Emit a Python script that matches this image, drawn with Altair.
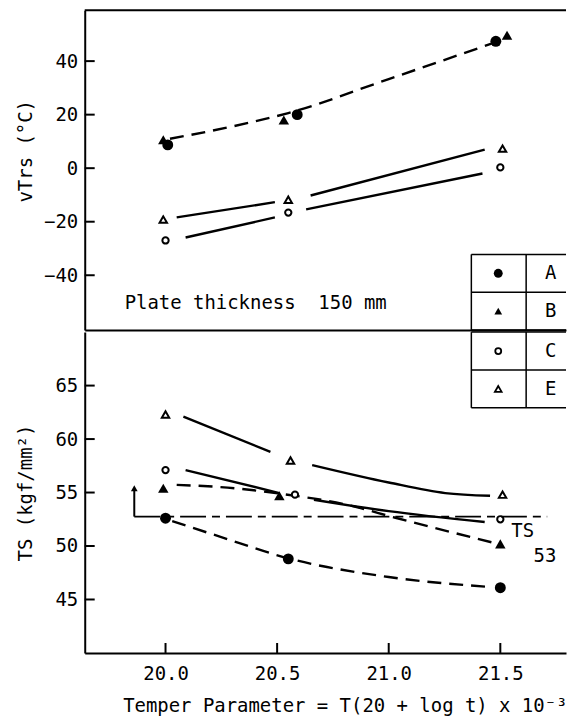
import altair as alt
import pandas as pd

FONT = "DejaVu Sans Mono"
FS = 19

# ---------------- axes ----------------
x_ticks = [20.0, 20.5, 21.0, 21.5]
vtrs_ticks = [-40, -20, 0, 20, 40]
ts_ticks = [45, 50, 55, 60, 65]

x_domain = [19.638, 21.7943]
vtrs_domain = [-60.5, 59.0]
ts_domain = [40.0, 70.0]

# ---------------- vTrs panel: measured points ----------------
vtrs_A_x = [20.01, 20.59, 21.48]
vtrs_A_y = [8.7, 20.0, 47.4]
vtrs_B_x = [19.99, 20.53, 21.53]
vtrs_B_y = [10.6, 18.0, 49.7]
vtrs_C_x = [20.0, 20.55, 21.5]
vtrs_C_y = [-27.0, -16.6, 0.3]
vtrs_E_x = [19.99, 20.55, 21.51]
vtrs_E_y = [-19.2, -11.8, 7.3]

# vTrs fitted curves
vtrs_AB_fit_x = [20.02, 20.3, 20.55, 21.0, 21.47]
vtrs_AB_fit_y = [11.0, 15.6, 20.6, 33.3, 46.8]
vtrs_C_fit1_x = [20.09, 20.49]
vtrs_C_fit1_y = [-25.9, -18.4]
vtrs_C_fit2_x = [20.63, 21.42]
vtrs_C_fit2_y = [-15.4, -2.0]
vtrs_E_fit1_x = [20.05, 20.49]
vtrs_E_fit1_y = [-18.4, -12.7]
vtrs_E_fit2_x = [20.65, 21.43]
vtrs_E_fit2_y = [-10.2, 6.9]

# ---------------- TS panel: measured points ----------------
ts_A_x = [20.0, 20.55, 21.5]
ts_A_y = [52.6, 48.8, 46.1]
ts_B_x = [19.99, 20.51, 21.5]
ts_B_y = [55.4, 54.7, 50.2]
ts_C_x = [20.0, 20.58, 21.5]
ts_C_y = [57.1, 54.8, 52.5]
ts_E_x = [20.0, 20.56, 21.51]
ts_E_y = [62.3, 58.0, 54.8]

# TS fitted curves
ts_A_fit_x = [20.03, 20.24, 20.55, 21.0, 21.46]
ts_A_fit_y = [52.33, 50.9, 48.85, 47.1, 46.16]
ts_B_fit_x = [20.05, 20.31, 20.51, 20.81, 21.03, 21.47]
ts_B_fit_y = [55.72, 55.4, 54.9, 53.87, 52.64, 50.3]
ts_C_fit1_x = [20.09, 20.51]
ts_C_fit1_y = [57.1, 54.95]
ts_C_fit2_x = [20.665, 21.0, 21.43]
ts_C_fit2_y = [54.33, 53.26, 52.24]
ts_E_fit1_x = [20.08, 20.47]
ts_E_fit1_y = [62.1, 58.8]
ts_E_fit2_x = [20.657, 21.0, 21.253, 21.454]
ts_E_fit2_y = [57.57, 55.94, 54.95, 54.7]

# TS requirement line
ts_limit = 52.75
ts_limit_x = [19.86, 21.71]
ts_arrow_x = 19.86
ts_arrow_top = 55.4

# legend
legend_labels = ["A", "B", "C", "E"]

# ---------------- geometry ----------------
W = 483
H_TOP = 321
H_BOT = 322

xscale = alt.Scale(domain=x_domain, nice=False, zero=False)
ys_top = alt.Scale(domain=vtrs_domain, nice=False, zero=False)
ys_bot = alt.Scale(domain=ts_domain, nice=False, zero=False)

x_axis_top = alt.Axis(labels=False, ticks=False, title=None, domain=True, values=x_ticks)
x_axis_bot = alt.Axis(values=x_ticks, format=".1f",
                      title="Temper Parameter = T(20 + log t) x 10⁻³",
                      labelPadding=12, titlePadding=13, titleX=261)
y_axis_top = alt.Axis(values=vtrs_ticks, title="vTrs (°C)", titleX=-49, titleY=141)
y_axis_bot = alt.Axis(values=ts_ticks, title="TS (kgf/mm²)", titleX=-49, titleY=161)


def curves(segs):
    rows = []
    for i, (xs, ys) in enumerate(segs):
        for xv, yv in zip(xs, ys):
            rows.append({"x": xv, "y": yv, "seg": i})
    return pd.DataFrame(rows)


def pts(xs, ys):
    return pd.DataFrame({"x": xs, "y": ys})


def panel(ys, yaxis, xaxis, solid_segs, dash_segs, markers, height, extra):
    X = alt.X("x:Q", scale=xscale, axis=xaxis)
    Y = alt.Y("y:Q", scale=ys, axis=yaxis)
    layers = []
    layers.append(
        alt.Chart(curves(solid_segs)).mark_line(color="black", strokeWidth=2.4, interpolate="monotone")
        .encode(x=X, y=Y, detail="seg:N")
    )
    layers.append(
        alt.Chart(curves(dash_segs)).mark_line(color="black", strokeWidth=2.4, strokeDash=[14, 8],
                                               interpolate="monotone")
        .encode(x=X, y=Y, detail="seg:N")
    )
    (axx, axy), (bx, by), (cx, cy), (ex, ey) = markers
    layers.append(alt.Chart(pts(axx, axy)).mark_point(shape="circle", filled=True, size=120, color="black",
                                                      opacity=1).encode(x=X, y=Y))
    layers.append(alt.Chart(pts(bx, by)).mark_point(shape="triangle-up", filled=True, size=110, color="black",
                                                    opacity=1).encode(x=X, y=Y))
    layers.append(alt.Chart(pts(cx, cy)).mark_point(shape="circle", filled=False, fill="white", size=40,
                                                    stroke="black", strokeWidth=2, opacity=1).encode(x=X, y=Y))
    layers.append(alt.Chart(pts(ex, ey)).mark_point(shape="triangle-up", filled=False, fill="white", size=55,
                                                    stroke="black", strokeWidth=2, opacity=1).encode(x=X, y=Y))
    # inward y ticks
    yt = pd.DataFrame({"y": yaxis.values})
    layers.append(alt.Chart(yt).mark_rule(color="black", strokeWidth=2)
                  .encode(y=Y, x=alt.value(0), x2=alt.value(10)))
    layers.extend(extra(X, Y))
    return alt.layer(*layers).properties(width=W, height=height)


one = pd.DataFrame({"k": [0]})


def legend_part(rows, shapes, y0):
    rh = 38
    out = []
    hl = pd.DataFrame({"yy": [y0 + i * rh for i in range(len(rows) + 1)]})
    out.append(alt.Chart(hl).mark_rule(color="black", strokeWidth=1.5)
               .encode(y=alt.Y("yy:Q", scale=None), x=alt.value(388), x2=alt.value(W)))
    vl = pd.DataFrame({"xx": [388, 443]})
    out.append(alt.Chart(vl).mark_rule(color="black", strokeWidth=1.5)
               .encode(x=alt.X("xx:Q", scale=None), y=alt.value(y0), y2=alt.value(y0 + rh * len(rows))))
    for i, (lab, (shp, fil, sz)) in enumerate(zip(rows, shapes)):
        cy = y0 + rh * i + rh / 2
        if fil:
            m = alt.Chart(one).mark_point(shape=shp, filled=True, size=sz, color="black", opacity=1)
        else:
            m = alt.Chart(one).mark_point(shape=shp, filled=False, fill="white", size=sz, stroke="black",
                                          strokeWidth=1.8, opacity=1)
        out.append(m.encode(x=alt.value(415), y=alt.value(cy)))
        out.append(alt.Chart(pd.DataFrame({"t": [lab]})).mark_text(font=FONT, fontSize=FS, color="black",
                                                                 align="left", baseline="middle")
                   .encode(text="t:N", x=alt.value(462), y=alt.value(cy)))
    return out


def top_extra(X, Y):
    out = []
    out.append(alt.Chart(one).mark_rule(color="black", strokeWidth=2)
               .encode(x=alt.value(0), x2=alt.value(W), y=alt.value(0)))
    out.append(alt.Chart(pd.DataFrame({"x": [19.817], "y": [-50.4],
                                       "t": ["Plate thickness\u00a0\u00a0150 mm"]}))
               .mark_text(font=FONT, fontSize=FS, color="black", align="left", baseline="middle")
               .encode(x=X, y=Y, text="t:N"))
    out += legend_part(legend_labels[:2], [("circle", True, 80), ("triangle-up", True, 60)], 245)
    return out


def bot_extra(X, Y):
    out = []
    xt = pd.DataFrame({"x": x_ticks})
    out.append(alt.Chart(xt).mark_rule(color="black", strokeWidth=2)
               .encode(x=X, y=alt.value(H_BOT), y2=alt.value(H_BOT - 10)))
    lim = pd.DataFrame({"x": ts_limit_x, "y": [ts_limit, ts_limit]})
    out.append(alt.Chart(lim).mark_line(color="black", strokeWidth=1.8, strokeDash=[26, 6, 8, 6])
               .encode(x=X, y=Y))
    arr = pd.DataFrame({"x": [ts_arrow_x], "y": [ts_limit], "y2": [ts_arrow_top - 0.2]})
    out.append(alt.Chart(arr).mark_rule(color="black", strokeWidth=2)
               .encode(x=X, y=Y, y2="y2:Q"))
    out.append(alt.Chart(pd.DataFrame({"x": [ts_arrow_x], "y": [ts_arrow_top]}))
               .mark_point(shape="triangle-up", filled=True, size=45, color="black", opacity=1)
               .encode(x=X, y=Y))
    out.append(alt.Chart(pd.DataFrame({"x": [21.6, 21.70], "y": [51.4, 49.1], "t": ["TS", "53"]}))
               .mark_text(font=FONT, fontSize=FS, color="black", align="center", baseline="middle")
               .encode(x=X, y=Y, text="t:N"))
    out += legend_part(legend_labels[2:], [("circle", False, 36), ("triangle-up", False, 45)], 0)
    return out


top = panel(ys_top, y_axis_top, x_axis_top,
            [(vtrs_C_fit1_x, vtrs_C_fit1_y), (vtrs_C_fit2_x, vtrs_C_fit2_y),
             (vtrs_E_fit1_x, vtrs_E_fit1_y), (vtrs_E_fit2_x, vtrs_E_fit2_y)],
            [(vtrs_AB_fit_x, vtrs_AB_fit_y)],
            [(vtrs_A_x, vtrs_A_y), (vtrs_B_x, vtrs_B_y), (vtrs_C_x, vtrs_C_y), (vtrs_E_x, vtrs_E_y)],
            H_TOP, top_extra)

bot = panel(ys_bot, y_axis_bot, x_axis_bot,
            [(ts_C_fit1_x, ts_C_fit1_y), (ts_C_fit2_x, ts_C_fit2_y),
             (ts_E_fit1_x, ts_E_fit1_y), (ts_E_fit2_x, ts_E_fit2_y)],
            [(ts_A_fit_x, ts_A_fit_y), (ts_B_fit_x, ts_B_fit_y)],
            [(ts_A_x, ts_A_y), (ts_B_x, ts_B_y), (ts_C_x, ts_C_y), (ts_E_x, ts_E_y)],
            H_BOT, bot_extra)

chart = (
    alt.vconcat(top, bot, spacing=0)
    .properties(padding={"left": 9, "top": 0, "right": 0, "bottom": 0}, background="white")
    .configure_view(stroke=None)
    .configure_axis(labelFont=FONT, labelFontSize=FS, titleFont=FONT, titleFontSize=FS,
                    titleFontWeight="normal", labelColor="black", titleColor="black",
                    domainColor="black", domainWidth=2, ticks=False, grid=False, labelPadding=7)
)

chart.save("out.html", embed_options={"renderer": "svg", "actions": False})
